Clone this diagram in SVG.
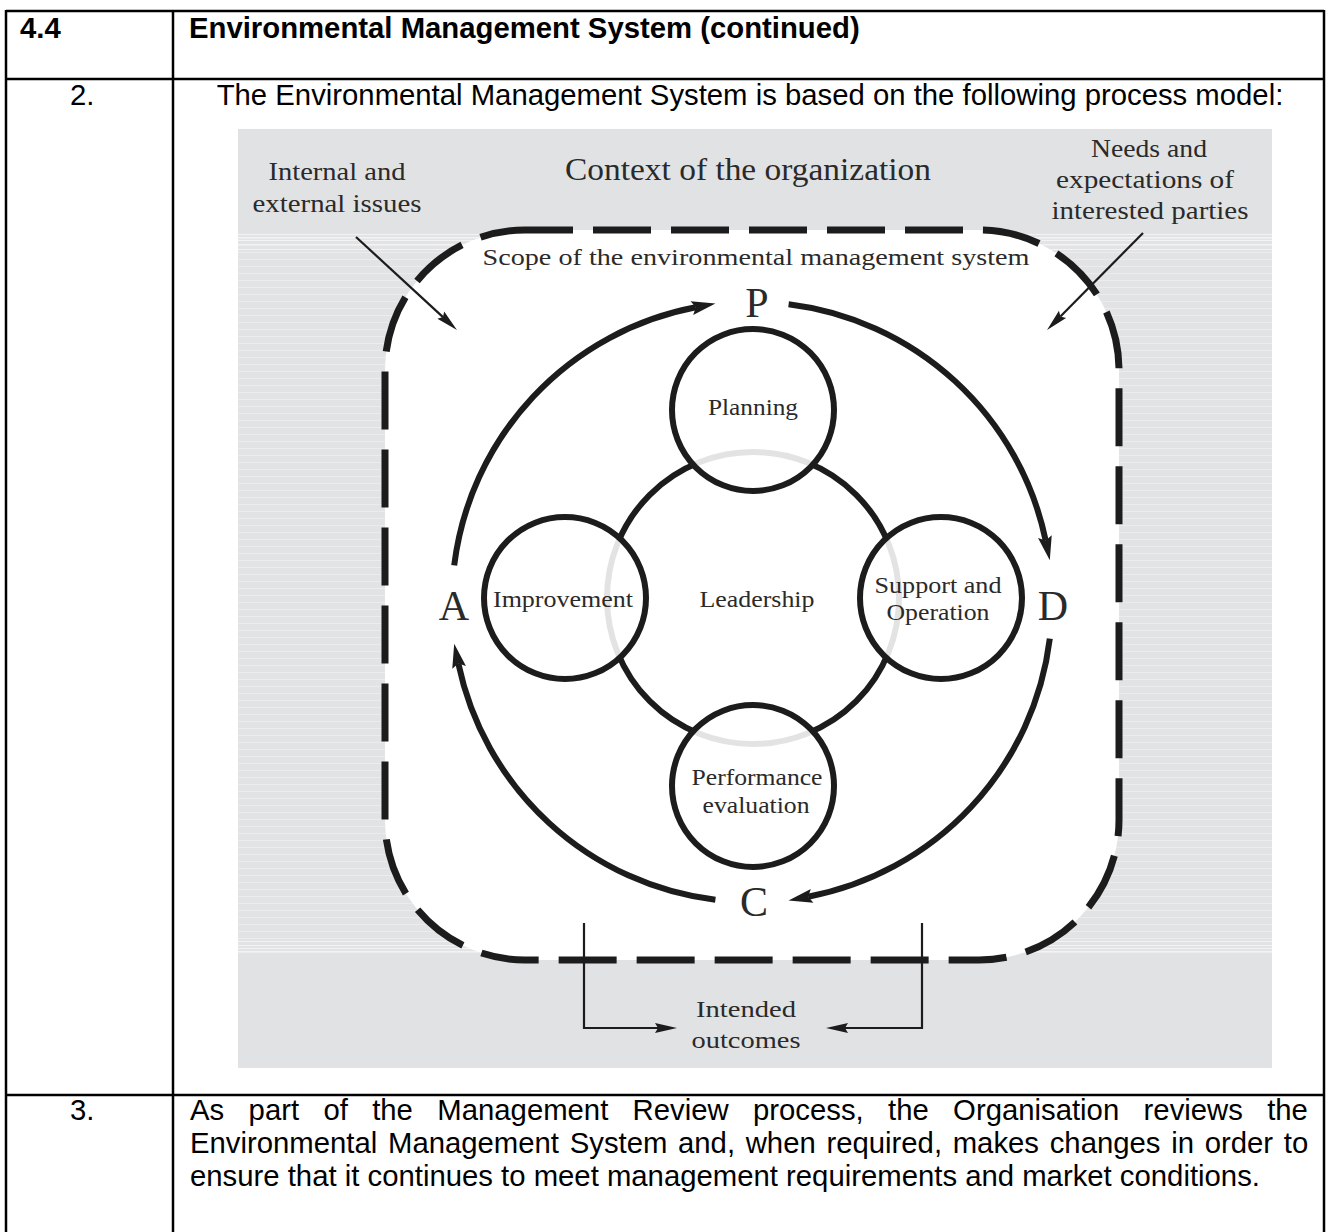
<svg xmlns="http://www.w3.org/2000/svg" width="1326" height="1232" viewBox="0 0 1326 1232">
<style>
.tbl{stroke:#000;stroke-width:2.5;fill:none}
.sans{font-family:"Liberation Sans",Arial,sans-serif;font-size:29.3px;fill:#000}
.bold{font-weight:bold}
.serif{font-family:"Liberation Serif","DejaVu Serif",serif;fill:#2a2a2a}
.lbl{font-size:23px}
.big{font-size:42px}
.thick{stroke:#1c1c1c;stroke-width:6;fill:none}
.thin{stroke:#1c1c1c;stroke-width:2.2;fill:none}
.node{stroke:#1c1c1c;stroke-width:6;fill:#fff;fill-opacity:0.88}
</style>
<defs>
<marker id="ah" markerUnits="userSpaceOnUse" markerWidth="30" markerHeight="20" refX="4" refY="0" viewBox="-2 -10 30 20" orient="auto">
<path d="M0,-7 L24,0 L0,7 L4,0 Z" fill="#1c1c1c"/>
</marker>
<marker id="ahs" markerUnits="userSpaceOnUse" markerWidth="28" markerHeight="16" refX="3" refY="0" viewBox="-2 -8 28 16" orient="auto">
<path d="M0,-5 L22,0 L0,5 L3,0 Z" fill="#1c1c1c"/>
</marker>
<pattern id="stripes" patternUnits="userSpaceOnUse" width="20" height="7">
<rect width="20" height="7" fill="#e2e3e5"/>
<rect width="20" height="1" fill="#ebecee"/>
</pattern>
</defs>

<!-- table -->
<g id="table">
<path class="tbl" d="M6,11 H1324 M6,79 H1324 M6,1095 H1324 M6,10 V1232 M1324,10 V1232 M173,10 V1232"/>
<text class="sans bold" x="20" y="38">4.4</text>
<text class="sans bold" x="189" y="38">Environmental Management System (continued)</text>
<text class="sans" x="70" y="105">2.</text>
<text class="sans" x="750" y="105" text-anchor="middle">The Environmental Management System is based on the following process model:</text>
<text class="sans" x="70" y="1120">3.</text>
<text class="sans" y="1120"><tspan x="190">As</tspan><tspan x="248.6">part</tspan><tspan x="323.4">of</tspan><tspan x="372.2">the</tspan><tspan x="437.3">Management</tspan><tspan x="632.6">Review</tspan><tspan x="753">process,</tspan><tspan x="888.1">the</tspan><tspan x="953.1">Organisation</tspan><tspan x="1143.6">reviews</tspan><tspan x="1267.2">the</tspan></text>
<text class="sans" y="1153"><tspan x="190">Environmental</tspan><tspan x="388">Management</tspan><tspan x="569.7">System</tspan><tspan x="678">and,</tspan><tspan x="745.7">when</tspan><tspan x="826.4">required,</tspan><tspan x="952.7">makes</tspan><tspan x="1049.7">changes</tspan><tspan x="1171.2">in</tspan><tspan x="1204.7">order</tspan><tspan x="1283.8">to</tspan></text>
<text class="sans" x="190" y="1186">ensure that it continues to meet management requirements and market conditions.</text>
</g>

<!-- diagram background -->
<g id="background">
<rect x="238" y="129" width="1034" height="939" fill="#e1e2e4"/>
<rect x="238" y="233" width="1034" height="722" fill="url(#stripes)"/>
<g stroke="#f3f3f4" stroke-width="1">
<path d="M238,234.5 H1272 M238,237.5 H1272 M238,240.5 H1272 M238,244.5 H1272 M238,249.5 H1272"/>
<path d="M238,941.5 H1272 M238,945.5 H1272 M238,948.5 H1272 M238,951.5 H1272"/>
</g>
</g>

<g id="scope">
<rect x="385" y="230" width="734" height="730" rx="140" ry="140" fill="#fff" stroke="#1c1c1c" stroke-width="7" stroke-dasharray="58 20" stroke-dashoffset="10"/>
<text class="serif" x="756" y="265" text-anchor="middle" font-size="24" textLength="547" lengthAdjust="spacingAndGlyphs">Scope of the environmental management system</text>
</g>

<g id="context">
<text class="serif" x="748" y="180" text-anchor="middle" font-size="32" textLength="366" lengthAdjust="spacingAndGlyphs">Context of the organization</text>
</g>
<g id="internal-external">
<text class="serif" x="337" y="180" text-anchor="middle" font-size="25" textLength="137" lengthAdjust="spacingAndGlyphs">Internal and</text>
<text class="serif" x="337" y="212" text-anchor="middle" font-size="25" textLength="169" lengthAdjust="spacingAndGlyphs">external issues</text>
</g>
<g id="needs">
<text class="serif" x="1149" y="157" text-anchor="middle" font-size="25" textLength="116" lengthAdjust="spacingAndGlyphs">Needs and</text>
<text class="serif" x="1145" y="188" text-anchor="middle" font-size="25" textLength="178" lengthAdjust="spacingAndGlyphs">expectations of</text>
<text class="serif" x="1150" y="219" text-anchor="middle" font-size="25" textLength="197" lengthAdjust="spacingAndGlyphs">interested parties</text>
</g>

<g id="leadership">
<circle class="thick" cx="753" cy="598" r="146"/>
<text class="serif lbl" x="757" y="607" text-anchor="middle" textLength="115" lengthAdjust="spacingAndGlyphs">Leadership</text>
</g>
<g id="planning">
<circle class="node" cx="753" cy="410" r="81"/>
<text class="serif lbl" x="753" y="415" text-anchor="middle" textLength="90" lengthAdjust="spacingAndGlyphs">Planning</text>
</g>
<g id="support-operation">
<circle class="node" cx="941" cy="598" r="81"/>
<text class="serif lbl" x="938" y="593" text-anchor="middle" textLength="127" lengthAdjust="spacingAndGlyphs">Support and</text>
<text class="serif lbl" x="938" y="620" text-anchor="middle" textLength="103" lengthAdjust="spacingAndGlyphs">Operation</text>
</g>
<g id="performance">
<circle class="node" cx="753" cy="786" r="81"/>
<text class="serif lbl" x="757" y="785" text-anchor="middle" textLength="131" lengthAdjust="spacingAndGlyphs">Performance</text>
<text class="serif lbl" x="756" y="813" text-anchor="middle" textLength="107" lengthAdjust="spacingAndGlyphs">evaluation</text>
</g>
<g id="improvement">
<circle class="node" cx="565" cy="598" r="81"/>
<text class="serif lbl" x="563" y="607" text-anchor="middle" textLength="140" lengthAdjust="spacingAndGlyphs">Improvement</text>
</g>

<g id="pdca-labels">
<text class="serif big" x="757" y="317" text-anchor="middle">P</text>
<text class="serif big" x="1053" y="620" text-anchor="middle">D</text>
<text class="serif big" x="754" y="916" text-anchor="middle">C</text>
<text class="serif big" x="454" y="620" text-anchor="middle">A</text>
</g>

<g id="intended">
<text class="serif lbl" x="746" y="1017" text-anchor="middle" textLength="100" lengthAdjust="spacingAndGlyphs">Intended</text>
<text class="serif lbl" x="746" y="1048" text-anchor="middle" textLength="109" lengthAdjust="spacingAndGlyphs">outcomes</text>
</g>

<g id="connectors">
<path class="thick" marker-end="url(#ah)" d="M454.2,565.4 A300,300 0 0 1 695.8,307.3"/>
<path class="thick" marker-end="url(#ah)" d="M788.6,304.2 A300,300 0 0 1 1045.7,540.6"/>
<path class="thick" marker-end="url(#ah)" d="M1049.8,638.6 A300,300 0 0 1 808.2,896.7"/>
<path class="thick" marker-end="url(#ah)" d="M715.4,899.8 A300,300 0 0 1 458.3,663.4"/>
<path class="thin" marker-end="url(#ahs)" d="M356,237 L443,317.1"/>
<path class="thin" marker-end="url(#ahs)" d="M1143,233 L1060.4,316.5"/>
<path class="thin" marker-end="url(#ahs)" d="M584,923 V1028 H658"/>
<path class="thin" marker-end="url(#ahs)" d="M922,923 V1028 H845"/>
</g>
</svg>
